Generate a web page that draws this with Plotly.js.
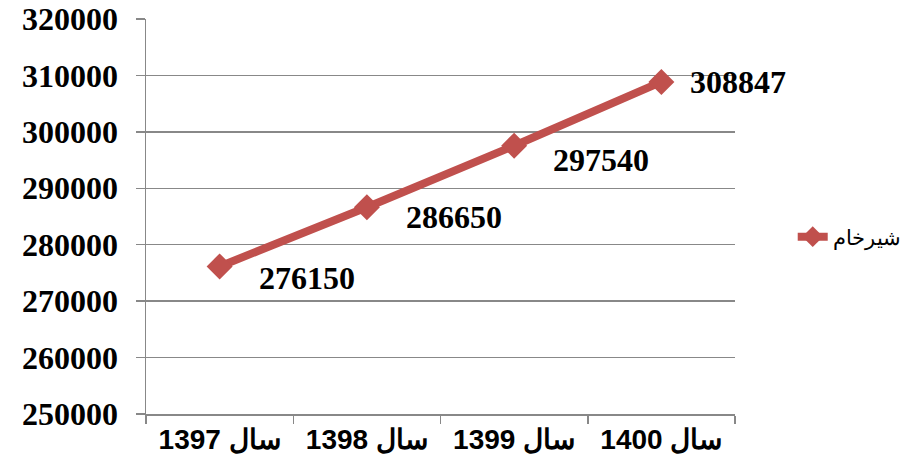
<!DOCTYPE html>
<html>
<head>
<meta charset="utf-8">
<script src="https://cdn.plot.ly/plotly-3.0.1.min.js"></script>
<style>html,body{margin:0;padding:0;background:#fff;}#chart{width:912px;height:470px;}</style>
</head>
<body>
<div id="chart"></div>
<script>
const categories = ["سال 1397", "سال 1398", "سال 1399", "سال 1400"];
const values = [276150, 286650, 297540, 308847];
const seriesName = "شیرخام";
const yTicks = [250000, 260000, 270000, 280000, 290000, 300000, 310000, 320000];
const labelShifts = [[87, -12], [87, -10], [87, -14], [77, 0]];

const red = "#C0504D";
const serif = "Liberation Serif";
const sans = "Liberation Sans";
const trace = {
  type: "scatter",
  mode: "lines+markers",
  x: categories,
  y: values,
  name: seriesName,
  line: {color: red, width: 8},
  marker: {symbol: "diamond", size: 20, color: red},
  hoverinfo: "skip"
};

const annotations = values.map((v, i) => ({
  x: categories[i], y: v, xref: "x", yref: "y",
  text: "<b>" + v + "</b>", showarrow: false,
  xshift: labelShifts[i][0], yshift: labelShifts[i][1],
  font: {family: serif, size: 32, color: "#000"}
}));

const layout = {
  width: 912, height: 470,
  margin: {l: 146, r: 177, t: 19, b: 56, autoexpand: false},
  paper_bgcolor: "#fff", plot_bgcolor: "#fff",
  showlegend: true,
  legend: {x: 1.098, y: 0.448, xanchor: "left", yanchor: "middle",
    font: {family: sans, size: 21, color: "#000"}},
  xaxis: {
    type: "category",
    range: [-0.5, 3.5],
    tickvals: categories,
    ticktext: categories.map(c => "<b>" + c + "</b>"),
    showgrid: false, zeroline: false,
    showline: true, linecolor: "#888", linewidth: 1.5,
    ticks: "outside", tickson: "boundaries", ticklen: 8, tickcolor: "#888", tickwidth: 1.5,
    tickfont: {family: sans, size: 28, color: "#000"},
    automargin: false,
    fixedrange: true
  },
  yaxis: {
    range: [250000, 320000],
    tickvals: yTicks,
    ticktext: yTicks.map(t => "<b>" + t + "</b>"),
    showgrid: true, gridcolor: "#888", gridwidth: 1.5,
    zeroline: false,
    showline: true, linecolor: "#888", linewidth: 1.5,
    ticks: "outside", ticklen: 9, tickcolor: "#888", tickwidth: 1.5,
    ticklabelstandoff: 11,
    tickfont: {family: serif, size: 32, color: "#000"},
    automargin: false,
    fixedrange: true
  },
  annotations: annotations,
  hovermode: false
};

Plotly.newPlot("chart", [trace], layout, {displayModeBar: false, staticPlot: true});
</script>
</body>
</html>
